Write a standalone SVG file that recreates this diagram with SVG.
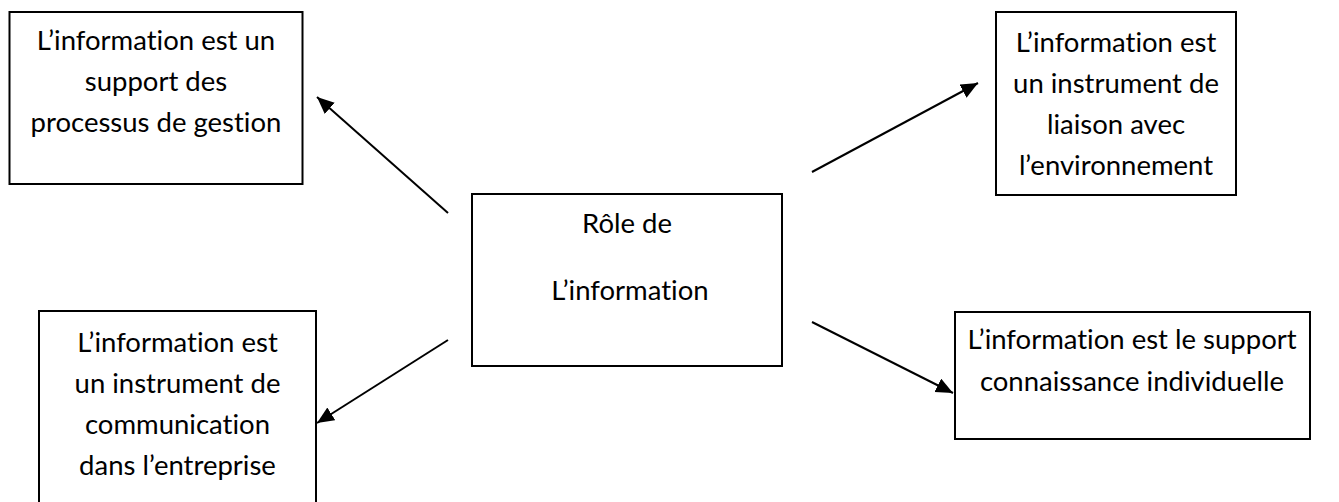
<svg xmlns="http://www.w3.org/2000/svg" width="1339" height="502" viewBox="0 0 1339 502">
  <style>
    .box { fill: #ffffff; stroke: #000000; stroke-width: 2; }
    .lbl { font-family: "Lato", "Liberation Sans", sans-serif; font-size: 27.5px; fill: #000000; text-anchor: middle; font-variant-ligatures: none; font-feature-settings: "liga" 0, "clig" 0; }
    .link { stroke: #000000; stroke-width: 2; fill: none; marker-end: url(#head); }
  </style>
  <defs>
    <marker id="head" markerUnits="userSpaceOnUse" markerWidth="20" markerHeight="16" refX="17" refY="7.5" orient="auto">
      <path d="M0,0 L17,7.5 L0,15 Z" fill="#000000"/>
    </marker>
  </defs>
  <rect width="1339" height="502" fill="#ffffff"/>

  <!-- central node -->
  <g id="role">
    <rect class="box" x="472" y="194" width="310" height="172"/>
    <text class="lbl" x="627" y="233">Rôle de</text>
    <text class="lbl" x="630" y="300">L’information</text>
  </g>

  <!-- top-left node -->
  <g id="gestion">
    <rect class="box" x="9.5" y="12" width="293" height="172"/>
    <text class="lbl" x="156" y="50">L’information est un</text>
    <text class="lbl" x="156" y="91">support des</text>
    <text class="lbl" x="156" y="132">processus de gestion</text>
  </g>

  <!-- top-right node -->
  <g id="environnement">
    <rect class="box" x="996" y="12" width="240" height="183"/>
    <text class="lbl" x="1116" y="52">L’information est</text>
    <text class="lbl" x="1116" y="93">un instrument de</text>
    <text class="lbl" x="1116" y="134">liaison avec</text>
    <text class="lbl" x="1116" y="175">l’environnement</text>
  </g>

  <!-- bottom-left node (runs past the lower edge) -->
  <g id="communication">
    <rect class="box" x="39" y="311" width="277" height="220"/>
    <text class="lbl" x="177.5" y="352">L’information est</text>
    <text class="lbl" x="177.5" y="393">un instrument de</text>
    <text class="lbl" x="177.5" y="434">communication</text>
    <text class="lbl" x="177.5" y="475">dans l’entreprise</text>
  </g>

  <!-- bottom-right node -->
  <g id="connaissance">
    <rect class="box" x="955" y="312" width="355" height="127"/>
    <text class="lbl" x="1132" y="349">L’information est le support</text>
    <text class="lbl" x="1132" y="391">connaissance individuelle</text>
  </g>

  <!-- connectors -->
  <g id="connectors">
    <line class="link" x1="448" y1="213" x2="317" y2="97"/>
    <line class="link" x1="812" y1="172" x2="978" y2="83"/>
    <line class="link" x1="448" y1="340" x2="317" y2="423"/>
    <line class="link" x1="812" y1="322" x2="953" y2="393"/>
  </g>
</svg>
